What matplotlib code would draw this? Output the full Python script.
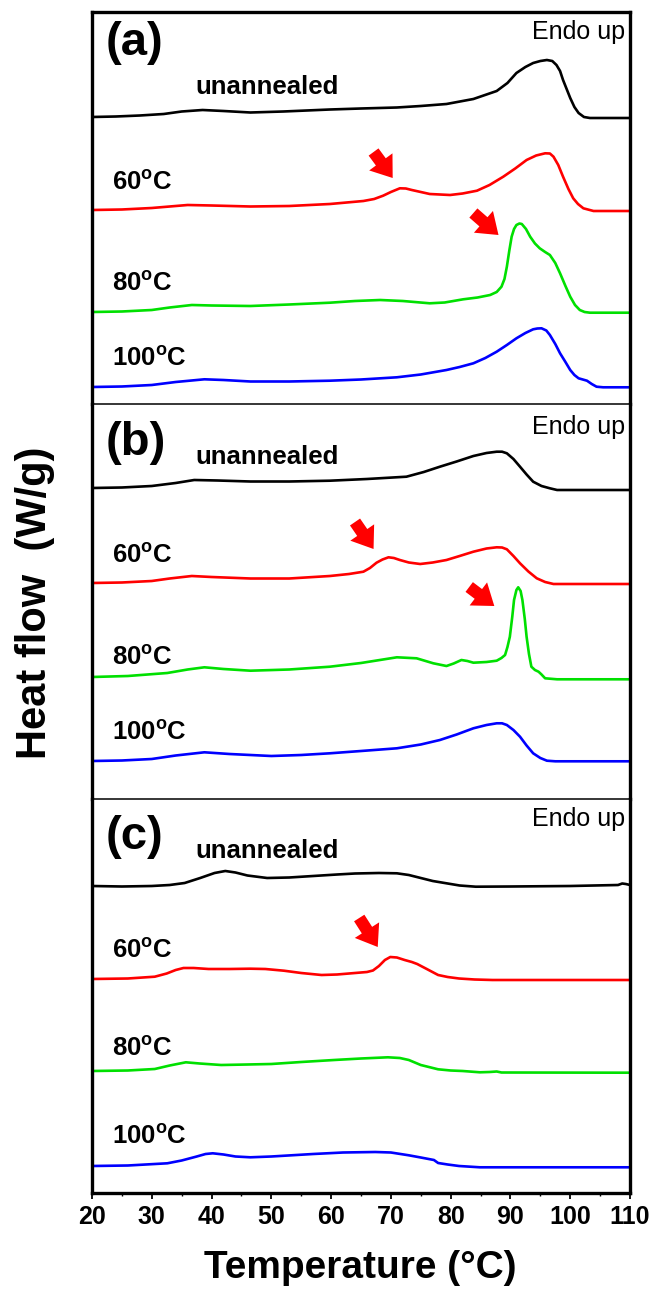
import numpy as np
import matplotlib
matplotlib.use("Agg")
import matplotlib.pyplot as plt

plt.rcParams['font.family'] = ['Liberation Sans', 'DejaVu Sans']
plt.rcParams['mathtext.fontset'] = 'custom'
plt.rcParams['mathtext.rm'] = 'Liberation Sans'
plt.rcParams['mathtext.bf'] = 'Liberation Sans:bold'

# ---------------- data (temperature in degC, heat flow in arbitrary offset units) -------------
panels = ['(a)', '(b)', '(c)']
curve_labels = ['unannealed', '60$^{\\mathbf{o}}$C', '80$^{\\mathbf{o}}$C', '100$^{\\mathbf{o}}$C']
colors = ['#000000', '#FF0000', '#00E000', '#0000FF']
panel_height = [392, 395, 394]

# panel (a)
a_black_T = [20, 24, 28, 32, 35, 38.5, 42, 46.5, 52, 59.8, 65, 71, 75, 79.3, 83.8, 87.7, 89.5, 91.0, 92.5, 93.8, 95, 96.1, 97, 97.7, 98.3, 98.8, 99.4, 100, 100.7, 101.4, 102.3, 103.3, 110]
a_black_Y = [287, 287.5, 288.5, 290, 292.5, 294, 293, 291.5, 292.5, 294.5, 295.5, 296.5, 298, 300, 305, 313, 321, 331, 337, 341, 343, 344, 343, 339, 333, 324, 315, 306, 297, 291, 287, 286, 286]
a_red_T = [20, 25, 30, 33, 36, 40, 46.5, 53, 59.8, 65.4, 67.2, 68.7, 70, 71.5, 72.5, 73.5, 76.5, 79.9, 82, 84.4, 86.5, 88.8, 90.8, 92.7, 94.3, 95.8, 96.6, 97.2, 98, 98.8, 99.7, 100.5, 101.3, 102.2, 103.9, 110]
a_red_Y = [194, 194.5, 196, 197.5, 199, 198.5, 197.5, 198, 200, 203, 205, 208.3, 212, 215.7, 215.5, 214, 210, 209, 210.5, 213.3, 219, 227.3, 235.5, 244, 248.5, 250.7, 250.5, 247.3, 239, 227.3, 215, 205.7, 200, 195.7, 193, 193]
a_green_T = [20, 25, 30, 33, 36.7, 40, 46.5, 53, 59.8, 64, 68.2, 72, 76.5, 79, 82.1, 84.5, 86.6, 87.7, 88.5, 89.0, 89.4, 89.8, 90.2, 90.6, 91.0, 91.5, 91.9, 92.6, 93.3, 94.1, 94.9, 95.8, 96.6, 97.5, 98.3, 99.2, 100, 100.8, 101.6, 102.4, 103.3, 110]
a_green_Y = [92, 92.5, 94, 96.5, 99, 98.5, 98, 99.5, 101.3, 103, 104, 103, 100.7, 101.5, 104.7, 106.5, 109, 112, 117.3, 125, 137.3, 153, 167.3, 175, 179, 180.5, 180, 175, 167.3, 160.5, 155.7, 152, 149, 141, 130.7, 118, 107.3, 99, 94, 92, 91.3, 91.3]
a_blue_T = [20, 25, 30, 34, 38.8, 42, 46.5, 53, 59.8, 65, 71, 75, 79.3, 81.5, 83.8, 85.8, 87.7, 89.4, 91.0, 92.5, 93.8, 94.5, 95.2, 96, 96.6, 97.5, 98.3, 99.2, 100, 100.7, 101.4, 102.1, 102.8, 103.6, 104.4, 105.5, 110]
a_blue_Y = [17, 17.5, 19, 22, 24.7, 24, 22.5, 22.5, 23.3, 24.5, 26.7, 29.5, 34, 37, 40.7, 46, 52.3, 59, 65.7, 71, 74.7, 75.5, 75.7, 73.5, 69, 60, 50.7, 42, 34, 29, 25.7, 24.5, 23.3, 20, 17.3, 16.7, 16.7]

# panel (b)
b_black_T = [20, 25, 30, 34, 37.1, 41, 46.5, 53, 59.8, 66, 72.6, 75.5, 78.2, 81, 83.8, 86, 87.7, 88.6, 89.4, 90.5, 91.6, 92.7, 93.8, 95.2, 96.6, 97.8, 110]
b_black_Y = [311, 311.5, 313, 316, 319, 318.5, 317.5, 317.5, 318.3, 320, 322.3, 327, 332.3, 337.5, 343, 346, 347.3, 347.3, 345.7, 340, 332.3, 324.5, 317.3, 313, 310.7, 309, 309]
b_red_T = [20, 25, 30, 33, 36.7, 40, 46.5, 53, 59.8, 63, 65.4, 66.5, 67.6, 68.6, 69.6, 70.5, 71.5, 73, 74.9, 77, 79.3, 81.5, 83.8, 86, 87.7, 88.6, 89.4, 90.5, 91.6, 93, 94.4, 95.8, 97.2, 110]
b_red_Y = [216, 216.5, 218, 220.5, 223, 222, 220.5, 220.5, 223, 225, 227.3, 231, 236.3, 239.5, 241.7, 241, 239, 236.5, 235, 236.5, 239, 243, 247.3, 250.5, 251.7, 251.5, 249.7, 243, 235.7, 227.5, 220.7, 217, 215, 215]
b_green_T = [20, 26, 32.6, 36, 38.8, 42, 46.5, 53, 59.8, 65, 71, 74.3, 77.1, 79.3, 80.5, 81.8, 82.8, 83.8, 86, 87.7, 88.5, 89.1, 89.5, 89.9, 90.3, 90.6, 91.0, 91.3, 91.7, 92.0, 92.4, 92.7, 93.1, 93.5, 94.1, 94.7, 95.2, 95.8, 97.8, 110]
b_green_Y = [122, 123, 126, 129.5, 131.7, 130, 128.3, 129.5, 132.3, 136, 141.7, 140.7, 135.7, 133, 135.5, 139, 138, 136.3, 137, 138.3, 141, 144, 152, 162.3, 182, 199, 209, 211.7, 208, 199, 180, 162.3, 145, 132.3, 129, 127.3, 124.5, 120.7, 119.7, 119.7]
b_blue_T = [20, 25, 30, 34, 38.8, 43, 50, 55, 59.8, 65, 71, 75, 78.2, 81, 83.8, 86, 87.7, 88.6, 89.4, 90.5, 91.6, 92.7, 93.8, 95, 96.1, 97.5, 110]
b_blue_Y = [38, 38.5, 40, 43.5, 46.7, 45, 43, 44, 45.7, 48, 50.7, 54.5, 59, 64.5, 70.7, 74, 75.7, 75.7, 74, 69, 62.3, 53.5, 45.7, 41, 38.3, 37.7, 37.7]

# panel (c)
c_black_T = [20, 25, 30, 33, 35.5, 38.1, 40.5, 42.3, 44, 46, 49.3, 53, 57, 61, 64, 68, 71, 73, 75, 77, 79.3, 81.5, 84.2, 90, 100, 108, 108.7, 109.3, 110]
c_black_Y = [307, 306.5, 307, 308, 310, 315, 320, 322, 320.5, 317.5, 315, 315.5, 317, 318.5, 319.5, 320, 319.7, 318, 315, 312, 309.7, 307.5, 306.3, 306.5, 307, 308, 309.5, 309, 308]
c_red_T = [20, 26, 30.5, 32.5, 34, 35.3, 37, 39.5, 43, 46.5, 49, 52.1, 55, 58.4, 61, 64, 66, 67, 68, 69, 69.9, 71, 72.3, 73.5, 74.4, 76, 77.9, 79.5, 81.4, 84, 87, 110]
c_red_Y = [214, 214.5, 216.3, 219.5, 223, 225, 225, 224, 224, 224.3, 224, 222.3, 220, 218, 218.5, 220, 221, 222.5, 227, 233, 236, 235.5, 233, 231, 229, 224, 218, 216, 214.5, 213.5, 213, 213]
c_green_T = [20, 26, 30.5, 33, 35.7, 38, 41.6, 46, 50, 55, 60.5, 65, 69.5, 71.5, 73, 75, 77.9, 80, 82, 84.9, 86.5, 87.7, 88.5, 110]
c_green_Y = [122, 122.5, 124, 127.5, 130.7, 129.5, 128, 128.5, 129, 131, 133, 134.5, 135.7, 135, 133, 128, 123.7, 122.5, 122, 120.7, 121, 121.5, 120.5, 120.3]
c_blue_T = [20, 26, 32.6, 35, 37.4, 39, 40.2, 42, 44, 46.5, 50, 57, 62, 67.4, 70, 73, 75, 77.2, 77.9, 79.5, 81.4, 84.9, 110]
c_blue_Y = [27, 27.5, 29.7, 32.5, 36.3, 39, 39.7, 38.5, 36.5, 35.7, 36.5, 39, 40.5, 41, 40.5, 37.7, 35.5, 33, 30, 28.5, 27, 25.7, 25.7]

curves = [
    [(a_black_T, a_black_Y), (a_red_T, a_red_Y), (a_green_T, a_green_Y), (a_blue_T, a_blue_Y)],
    [(b_black_T, b_black_Y), (b_red_T, b_red_Y), (b_green_T, b_green_Y), (b_blue_T, b_blue_Y)],
    [(c_black_T, c_black_Y), (c_red_T, c_red_Y), (c_green_T, c_green_Y), (c_blue_T, c_blue_Y)],
]

# label anchor heights per panel: (panel tag, unannealed, 60, 80, 100, endo)
label_Y = [[361, 317, 222, 121, 46, 372],
           [356, 342, 244, 142, 67, 372],
           [356, 342, 243, 145, 57, 374]]

# arrows: (tail T, tail Y, head T, head Y)
arrows = [[(67.1, 252, 70.3, 226), (83.8, 191, 88.0, 169)],
          [(64.0, 277, 67.1, 250), (83.1, 212, 87.3, 193)],
          [(64.7, 275, 67.8, 246)]]

x_ticks = list(range(20, 111, 10))

# ---------------- figure ----------------
W, H = 654, 1293
fig = plt.figure(figsize=(W / 100, H / 100), dpi=100)
gs = fig.add_gridspec(3, 1, height_ratios=panel_height, hspace=0,
                      left=92 / W, right=630 / W, top=1 - 12 / H, bottom=1 - 1193 / H)

outer_lw = 2.4
inner_lw = 1.1
for i in range(3):
    ax = fig.add_subplot(gs[i])
    for j, (T, Y) in enumerate(curves[i]):
        ax.plot(T, Y, color=colors[j], lw=1.9, solid_joinstyle='round', solid_capstyle='round')
    ax.set_xlim(20, 110)
    ax.set_ylim(0, panel_height[i])
    ax.set_yticks([])
    for s in ['left', 'right']:
        ax.spines[s].set_linewidth(outer_lw)
    ax.spines['top'].set_linewidth(outer_lw if i == 0 else inner_lw)
    if i < 2:
        ax.spines['bottom'].set_visible(False)
        ax.tick_params(axis='x', which='both', bottom=False, labelbottom=False)
    else:
        ax.spines['bottom'].set_linewidth(outer_lw)
        ax.set_xticks(x_ticks)
        ax.set_xticks(np.arange(25, 110, 10), minor=True)
        ax.tick_params(axis='x', which='major', direction='out', length=4, width=1.3, pad=5)
        ax.tick_params(axis='x', which='minor', direction='out', length=2.5, width=1.0)
        for lab in ax.get_xticklabels():
            lab.set_fontweight('bold')
            lab.set_fontsize(18)

    ly = label_Y[i]
    ax.text(22.3, ly[0], panels[i], fontsize=34, fontweight='bold', ha='left', va='center')
    ax.text(37.3, ly[1], curve_labels[0], fontsize=18.5, fontweight='bold', ha='left', va='center')
    for k in range(1, 4):
        ax.text(23.3, ly[k + 1], curve_labels[k], fontsize=18.5, fontweight='bold',
                ha='left', va='center')
    ax.text(109.2, ly[5], 'Endo up', fontsize=18, ha='right', va='center')

    for (tx, ty, hx, hy) in arrows[i]:
        ax.annotate('', xy=(hx, hy), xytext=(tx, ty),
                    arrowprops=dict(arrowstyle='simple,head_width=1.3,head_length=0.9,tail_width=0.55',
                                    color='#FF0000', lw=0, shrinkA=0, shrinkB=0, mutation_scale=16))

fig.text(35 / W, 1 - 603 / H, 'Heat flow  (W/g)', rotation=90, fontsize=30,
         fontweight='bold', ha='center', va='center')
fig.text(360 / W, 1 - 1268 / H, 'Temperature (\u00b0C)', fontsize=28, fontweight='bold',
         ha='center', va='center')

fig.savefig('out.png', dpi=100)
